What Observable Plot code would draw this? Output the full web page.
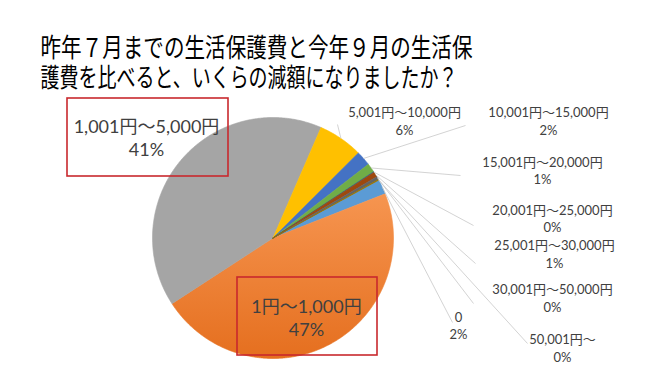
<!DOCTYPE html>
<html>
<head>
<meta charset="utf-8">
<script src="https://cdn.jsdelivr.net/npm/d3@7"></script>
<script src="https://cdn.jsdelivr.net/npm/@observablehq/plot@0.6"></script>
<style>
  html, body { margin: 0; padding: 0; background: #fff; }
  #chart { width: 670px; height: 376px; overflow: hidden; }
</style>
</head>
<body>
<div id="chart"></div>
<script>
// ---------- data ----------
const titleLines = [
  "昨年７月までの生活保護費と今年９月の生活保",
  "護費を比べると、いくらの減額になりましたか？"
];
const categories = [
  "0", "1円～1,000円", "1,001円～5,000円", "5,001円～10,000円",
  "10,001円～15,000円", "15,001円～20,000円", "20,001円～25,000円",
  "25,001円～30,000円", "30,001円～50,000円", "50,001円～"
];
const values = [2.0, 46.8, 40.7, 6.0, 2.0, 1.2, 0.1, 0.7, 0.4, 0.1];
const colors = [
  "#5B9BD5", "url(#orangeGrad)", "#A5A5A5", "#FFC000", "#4472C4",
  "#70AD47", "#255E91", "#9E480E", "#636363", "#997300"
];

// ---------- layout ----------
const W = 670, H = 376;
const pie = {cx: 272.5, cy: 237.5, r: 120.5, startDeg: 61.3};
// label centre x, line1 y, line2 y, leader end (lx, ly), big = boxed label
const labelLayout = [
  {x: 458, y1: 317, y2: 334, lx: 452, ly: 322},
  {x: 306, y1: 307, y2: 330, big: true},
  {x: 146, y1: 127, y2: 150, big: true},
  {x: 404, y1: 112, y2: 130, lx: 337, ly: 124},
  {x: 548, y1: 112, y2: 130, lx: 465, ly: 125},
  {x: 542, y1: 162, y2: 179, lx: 460, ly: 175},
  {x: 552, y1: 210, y2: 227, lx: 473, ly: 225},
  {x: 554, y1: 245, y2: 263, lx: 475, ly: 263},
  {x: 552, y1: 289, y2: 307, lx: 473, ly: 303},
  {x: 562, y1: 339, y2: 357, lx: 527, ly: 343}
];
const boxes = [
  {x1: 67, y1: 98, x2: 228, y2: 176},
  {x1: 237, y1: 277, x2: 377, y2: 355}
];

// ---------- geometry from data ----------
const total = d3.sum(values);
const toRad = Math.PI / 180;
let acc = pie.startDeg;
const slices = values.map((v, i) => {
  const a0 = acc, a1 = acc + v / total * 360;
  acc = a1;
  const pts = [{x: pie.cx, y: pie.cy}];
  const n = Math.max(2, Math.ceil((a1 - a0) / 0.5));
  for (let k = 0; k <= n; k++) {
    const a = (a0 + (a1 - a0) * k / n) * toRad;
    pts.push({x: pie.cx + pie.r * Math.sin(a), y: pie.cy - pie.r * Math.cos(a)});
  }
  pts.push({x: pie.cx, y: pie.cy});
  const mid = (a0 + a1) / 2 * toRad;
  return {i, pts, color: colors[i],
    mx: pie.cx + pie.r * Math.sin(mid), my: pie.cy - pie.r * Math.cos(mid)};
});

const labels = categories.map((c, i) => ({
  name: c,
  pct: Math.round(values[i] / total * 100) + "%",
  ...labelLayout[i],
  mx: slices[i].mx, my: slices[i].my
}));
const smallLabels = labels.filter(d => !d.big);
const bigLabels = labels.filter(d => d.big);

const gradientMark = () => {
  const ns = "http://www.w3.org/2000/svg";
  const defs = document.createElementNS(ns, "defs");
  const g = document.createElementNS(ns, "linearGradient");
  g.setAttribute("id", "orangeGrad");
  g.setAttribute("x1", "0"); g.setAttribute("y1", "0");
  g.setAttribute("x2", "0"); g.setAttribute("y2", "1");
  [["0", "#F69550"], ["1", "#E56F1F"]].forEach(([o, c]) => {
    const s = document.createElementNS(ns, "stop");
    s.setAttribute("offset", o); s.setAttribute("stop-color", c);
    g.appendChild(s);
  });
  defs.appendChild(g);
  return defs;
};

const labelFont = "Lato, 'Noto Sans CJK JP', sans-serif";

const chart = Plot.plot({
  width: W, height: H, margin: 0,
  x: {domain: [0, W], range: [0, W], axis: null},
  y: {domain: [0, H], range: [0, H], axis: null},
  style: {background: "#fff", fontFamily: labelFont},
  marks: [
    gradientMark,
    ...slices.map(s => Plot.line(s.pts, {
      x: "x", y: "y", fill: s.color, stroke: s.color, strokeWidth: 0.6, curve: "linear"
    })),
    Plot.link(smallLabels, {x1: "mx", y1: "my", x2: "lx", y2: "ly", stroke: "#C8C8C8", strokeWidth: 0.8}),
    Plot.rect(boxes, {x1: "x1", y1: "y1", x2: "x2", y2: "y2", fill: "none", stroke: "#C9282D", strokeWidth: 1.6}),
    Plot.text(smallLabels, {x: "x", y: "y1", text: "name", fontSize: 13, fill: "#404040"}),
    Plot.text(smallLabels, {x: "x", y: "y2", text: "pct", fontSize: 13, fill: "#404040"}),
    Plot.text(bigLabels, {x: "x", y: "y1", text: "name", fontSize: 18, fill: "#404040"}),
    Plot.text(bigLabels, {x: "x", y: "y2", text: "pct", fontSize: 18, fill: "#404040"}),
    Plot.text([titleLines.join("\n")], {
      x: () => 40, y: () => 62, text: d => d, textAnchor: "start",
      lineAnchor: "middle", lineHeight: 30 / 26,
      fontSize: 26, fontFamily: "'Noto Sans CJK JP', sans-serif", fill: "#000"
    })
  ]
});

// condense title glyphs to the reference's narrow width
const titleWidths = [432, 417];
chart.querySelectorAll("tspan, text").forEach(t => {
  const idx = titleLines.indexOf(t.textContent);
  if (idx >= 0) {
    t.setAttribute("textLength", titleWidths[idx]);
    t.setAttribute("lengthAdjust", "spacingAndGlyphs");
  }
});

document.getElementById("chart").appendChild(chart);
</script>
</body>
</html>
